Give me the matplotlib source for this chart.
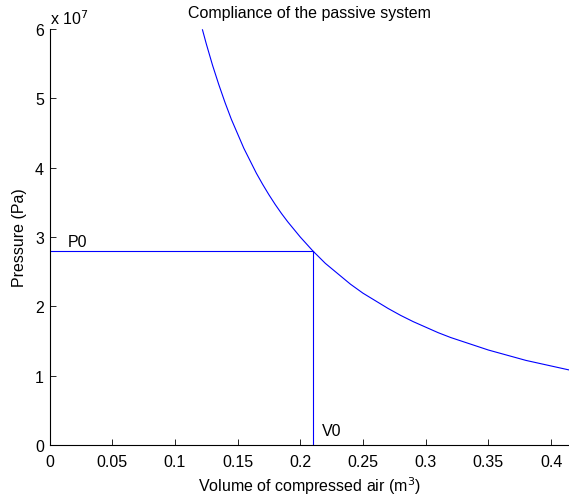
import matplotlib

matplotlib.use("Agg")
import matplotlib.pyplot as plt
from matplotlib.ticker import FuncFormatter

plt.rcParams["font.family"] = ["Liberation Sans", "DejaVu Sans"]
FS = 11.5

# operating point
V0 = 0.21
P0 = 2.8e7

# compliance curve (m^3, Pa)
volume = [0.122, 0.125, 0.13, 0.135, 0.14, 0.145, 0.15, 0.155, 0.16, 0.165,
          0.17, 0.175, 0.18, 0.185, 0.19, 0.195, 0.20, 0.21, 0.22, 0.23,
          0.24, 0.25, 0.26, 0.27, 0.28, 0.29, 0.30, 0.31, 0.32, 0.33, 0.34,
          0.35, 0.36, 0.37, 0.38, 0.39, 0.40, 0.41, 0.415]
pressure = [5.99e7, 5.79e7, 5.48e7, 5.20e7, 4.94e7, 4.70e7, 4.49e7, 4.28e7,
            4.10e7, 3.92e7, 3.76e7, 3.61e7, 3.47e7, 3.34e7, 3.22e7, 3.11e7,
            3.00e7, 2.80e7, 2.62e7, 2.47e7, 2.32e7, 2.19e7, 2.08e7, 1.97e7,
            1.87e7, 1.78e7, 1.70e7, 1.62e7, 1.55e7, 1.49e7, 1.43e7, 1.37e7,
            1.32e7, 1.27e7, 1.22e7, 1.18e7, 1.14e7, 1.10e7, 1.08e7]

xticks = [0, 0.05, 0.1, 0.15, 0.2, 0.25, 0.3, 0.35, 0.4]
yticks = [0, 1e7, 2e7, 3e7, 4e7, 5e7, 6e7]

fig = plt.figure(figsize=(5.69, 5.02), dpi=100)
ax = fig.add_axes([0.087, 0.1116, 0.913, 0.8284])

ax.plot(volume, pressure, color="#0000ff", lw=0.8)
ax.plot([0, V0], [P0, P0], color="#0000ff", lw=0.8)
ax.plot([V0, V0], [0, P0], color="#0000ff", lw=0.8)
ax.text(0.0145, P0 + 0.07e7, "P0", fontsize=FS, va="baseline")
ax.text(V0 + 0.007, 0.15e7, "V0", fontsize=FS, va="baseline")

ax.set_xlim(0, 0.4143)
ax.set_ylim(0, 6e7)
ax.set_xticks(xticks)
ax.set_yticks(yticks)
ax.xaxis.set_major_formatter(FuncFormatter(lambda v, _: f"{v:g}"))
ax.yaxis.set_major_formatter(FuncFormatter(lambda v, _: f"{v / 1e7:g}"))
ax.tick_params(direction="in", length=4, width=0.6, labelsize=FS)
ax.tick_params(axis="x", pad=6.5)
ax.tick_params(axis="y", pad=4)
for side in ("top", "right"):
    ax.spines[side].set_visible(False)
for side in ("left", "bottom"):
    ax.spines[side].set_linewidth(0.8)

ax.text(0.0, 1.006, r"x 10$^7$", transform=ax.transAxes, fontsize=FS,
        va="bottom", ha="left")
ax.set_title("Compliance of the passive system", fontsize=FS, pad=8.5)
ax.set_xlabel(r"Volume of compressed air (m$^3$)", fontsize=FS, labelpad=4)
ax.set_ylabel("Pressure (Pa)", fontsize=FS, labelpad=6)

fig.savefig("out.png", dpi=100)
